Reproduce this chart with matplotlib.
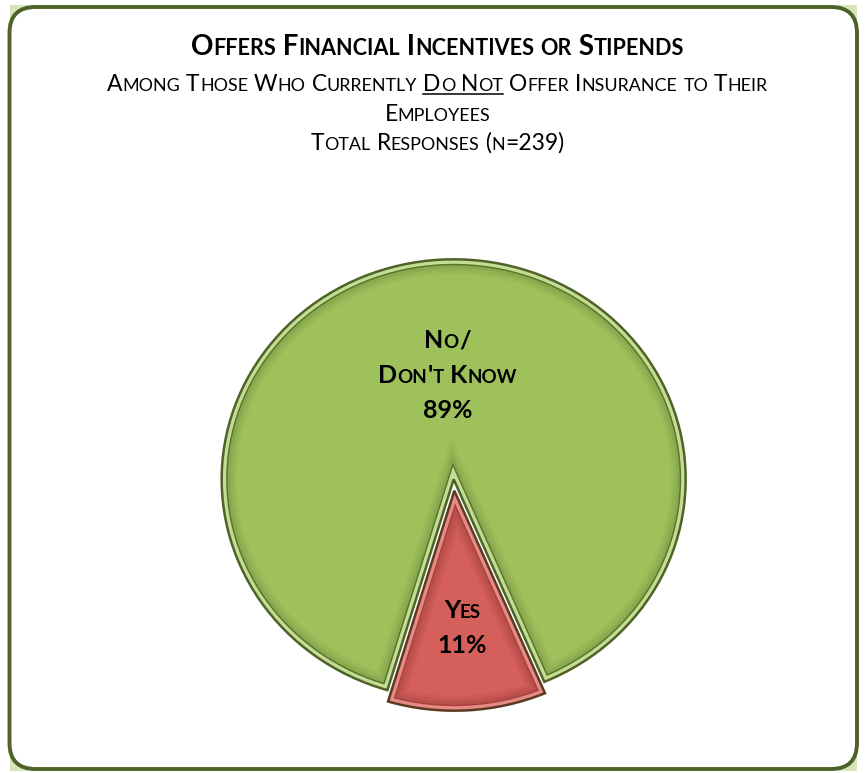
import matplotlib
matplotlib.use("Agg")
import matplotlib.pyplot as plt
from matplotlib.patches import FancyBboxPatch, Rectangle, Wedge
from matplotlib.transforms import Affine2D
import numpy as np

plt.rcParams['font.family'] = ['Lato', 'DejaVu Sans']

# survey data
answer_lines = [["No/", "Don't Know"], ["Yes"]]
shares = [89, 11]
slice_colors = ["#9fc15c", "#d55f5a"]

title = "Offers Financial Incentives or Stipends"
subtitle_lines = ["Among Those Who Currently Do Not Offer Insurance to Their",
                  "Employees",
                  "Total Responses (n=239)"]
underlined = "Do Not"

W, H = 867, 773
fig = plt.figure(figsize=(W / 100, H / 100), dpi=100)
ax = fig.add_axes([0, 0, 1, 1])
renderer = fig.canvas.get_renderer()


def runs_of(s):
    # lower case letters become small capitals
    out = []
    for ch in s:
        small = ch.islower()
        if out and out[-1][1] == small:
            out[-1][0] += ch.upper()
        else:
            out.append([ch.upper(), small])
    return out


def run_width(s, size, weight):
    t1 = ax.text(0, 0, "I" + s + "I", fontsize=size, fontweight=weight)
    t2 = ax.text(0, 0, "II", fontsize=size, fontweight=weight)
    w = t1.get_window_extent(renderer).width - t2.get_window_extent(renderer).width
    t1.remove()
    t2.remove()
    return w


def caps_width(s, size, weight, ratio):
    return sum(run_width(r, size * ratio if sm else size, weight) for r, sm in runs_of(s))


def caps_text(s, xc, y, size, weight="normal", ratio=0.78, underline=None):
    x0 = xc - caps_width(s, size, weight, ratio) / 2
    x = x0
    for r, sm in runs_of(s):
        fs = size * ratio if sm else size
        ax.text(x, y, r, fontsize=fs, fontweight=weight, ha="left", va="baseline",
                color="black", zorder=10)
        x += run_width(r, fs, weight)
    if underline:
        i = s.index(underline)
        ux0 = x0 + caps_width(s[:i], size, weight, ratio)
        ux1 = ux0 + caps_width(underline, size, weight, ratio)
        ax.plot([ux0, ux1], [y - 3, y - 3], color="black", lw=1.1, zorder=10)


# background panel with rounded frame
ax.add_patch(Rectangle((10, 2), 847, 766, facecolor="#d7e4bd", edgecolor="none", zorder=0))
ax.add_patch(FancyBboxPatch((9.5, 4), 847.5, 762,
                            boxstyle="round,pad=0,rounding_size=26",
                            facecolor="white", edgecolor="#4f6228", linewidth=2.8, zorder=1))

# pie, squashed a little vertically
k = 220 / 232
cx, cy = 454, H - 485
wedges, _ = ax.pie(shares, colors=slice_colors, startangle=293, radius=232,
                   center=(cx, cy / k), explode=[6, 6],
                   wedgeprops=dict(edgecolor="none", linewidth=0))
squash = Affine2D().scale(1, k) + ax.transData

bevels = [
    # (width px, colour, alpha) for green and red slices
    [(30, "#3a4f1c", 0.06), (24, "#3a4f1c", 0.07), (18, "#3a4f1c", 0.09),
     (12, "#587529", 1.0), (9, "#c4dd94", 1.0)],
    [(30, "#5a1a16", 0.06), (24, "#5a1a16", 0.07), (18, "#5a1a16", 0.09),
     (12, "#a6423d", 1.0), (9, "#e88a84", 1.0)],
]
outlines = ["#4f6228", "#5c3a22"]

for w, layers, oc in zip(wedges, bevels, outlines):
    w.set_transform(squash)
    w.set_zorder(3)
    for lw, c, a in layers:
        ring = Wedge(w.center, w.r, w.theta1, w.theta2, facecolor="none", edgecolor=c,
                     linewidth=lw * 0.72, alpha=a, transform=squash, zorder=4)
        ax.add_patch(ring)
        ring.set_clip_path(w)
    ax.add_patch(Wedge(w.center, w.r, w.theta1, w.theta2, facecolor="none", edgecolor=oc,
                       linewidth=1.8, transform=squash, zorder=5))

# slice labels
label_dist = [0.475, 0.62]
lead, cap = 35, 17
for w, lines, v, d in zip(wedges, answer_lines, shares, label_dist):
    tm = np.deg2rad((w.theta1 + w.theta2) / 2)
    lx = w.center[0] + d * w.r * np.cos(tm)
    ly = (w.center[1] + d * w.r * np.sin(tm)) * k
    rows = lines + [f"{v}%"]
    n = len(rows)
    for j, row in enumerate(rows):
        caps_text(row, lx, ly + ((n - 1) / 2 - j) * lead - cap / 2, 18, weight="bold", ratio=0.75)

# titles
caps_text(title, W / 2 + 4, H - 55, 20, weight="bold", ratio=0.78)
for row, yb in zip(subtitle_lines, [91, 121, 150]):
    caps_text(row, W / 2 + 4, H - yb, 16.5, ratio=0.78,
              underline=underlined if underlined in row else None)

ax.set_xlim(0, W)
ax.set_ylim(0, H)
ax.axis("off")
fig.savefig("out.png", dpi=100, facecolor="white")
